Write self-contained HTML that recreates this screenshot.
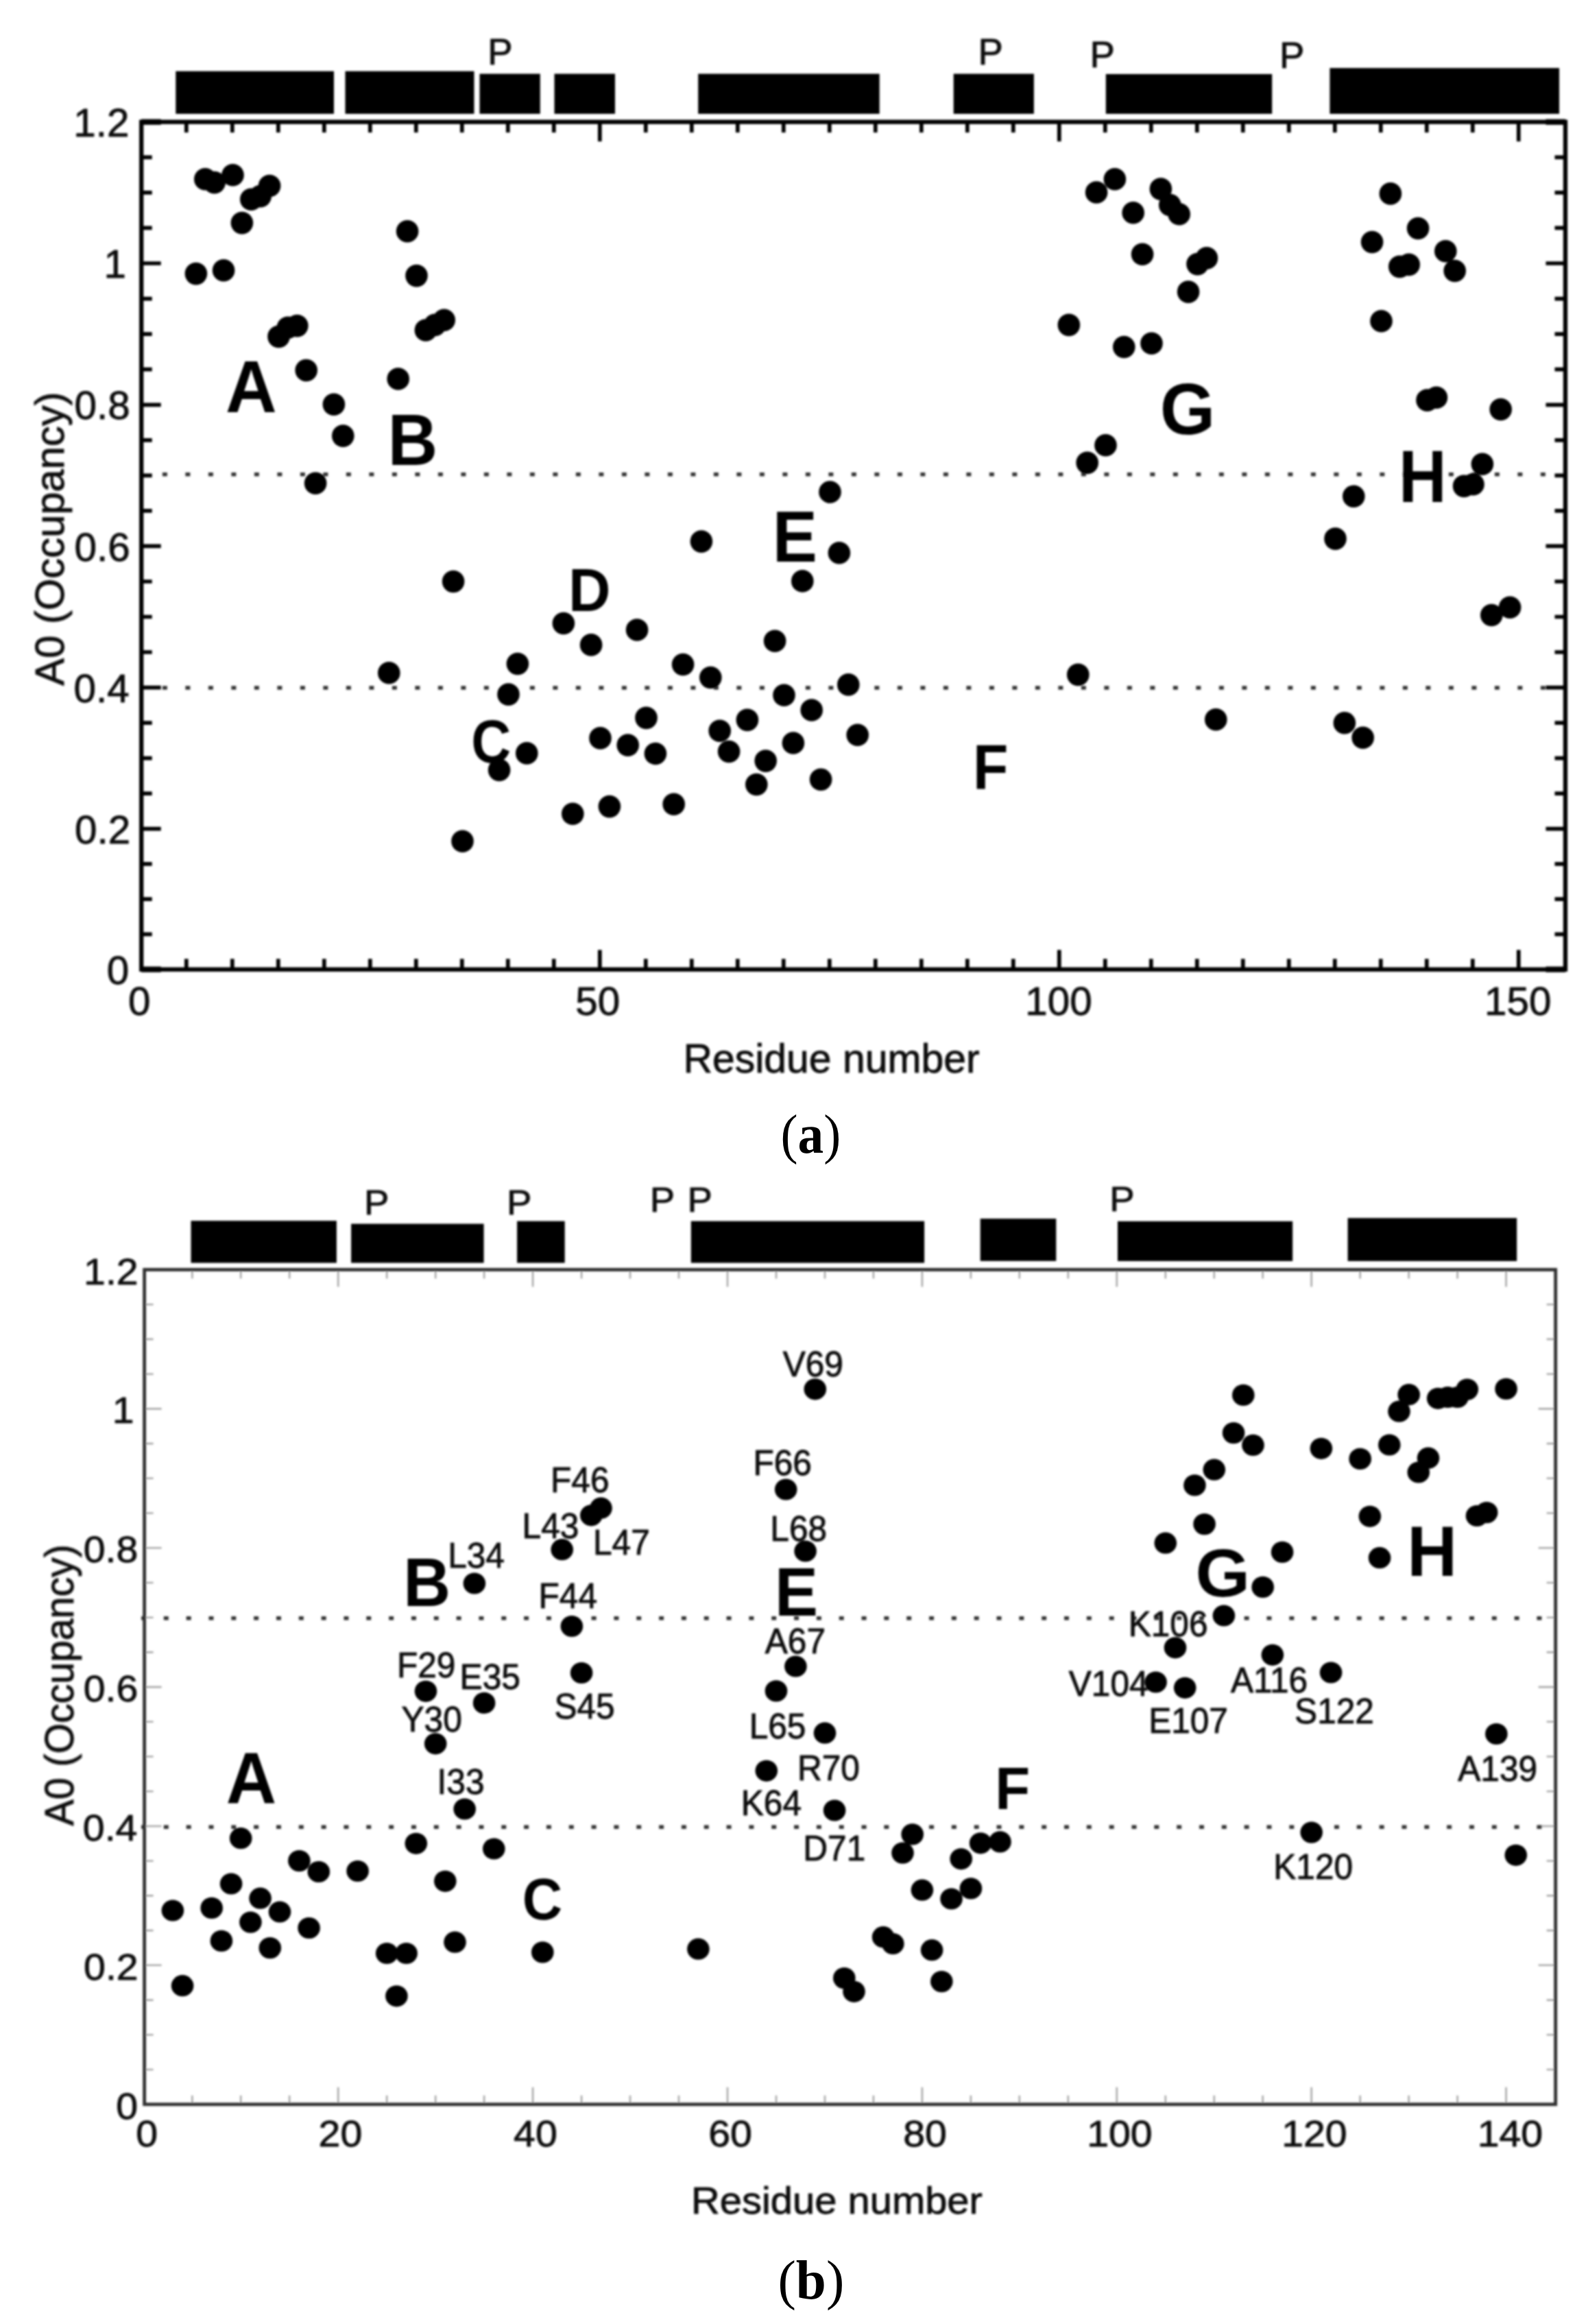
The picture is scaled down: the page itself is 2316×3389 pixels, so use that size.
<!DOCTYPE html>
<html><head><meta charset="utf-8"><title>Figure</title>
<style>html,body{margin:0;padding:0;background:#fff}svg{display:block}</style></head>
<body>
<svg width="2316" height="3389" viewBox="0 0 2316 3389">
<defs><filter id="soft" x="0" y="0" width="100%" height="100%" filterUnits="userSpaceOnUse" primitiveUnits="userSpaceOnUse"><feGaussianBlur stdDeviation="1.5"/></filter></defs>
<rect width="2316" height="3389" fill="#fff"/>
<g filter="url(#soft)">
<rect x="256.3" y="103.8" width="230.7" height="62.2" fill="#000"/>
<rect x="503.5" y="103.8" width="188.0" height="62.2" fill="#000"/>
<rect x="699.5" y="107.6" width="88.3" height="58.4" fill="#000"/>
<rect x="808.5" y="107.6" width="88.5" height="58.4" fill="#000"/>
<rect x="1018.2" y="107.6" width="264.5" height="58.4" fill="#000"/>
<rect x="1390.7" y="107.6" width="117.2" height="58.4" fill="#000"/>
<rect x="1612.8" y="108" width="242.4" height="58.0" fill="#000"/>
<rect x="1939.4" y="99.2" width="334.7" height="66.8" fill="#000"/>
<text transform="translate(711.14,93.55) scale(0.5450,0.5280)" font-size="100" font-family="Liberation Sans, sans-serif" fill="#111" stroke="#111" stroke-width="1.68" stroke-linejoin="round">P</text>
<text transform="translate(1426.54,93.85) scale(0.5450,0.5280)" font-size="100" font-family="Liberation Sans, sans-serif" fill="#111" stroke="#111" stroke-width="1.68" stroke-linejoin="round">P</text>
<text transform="translate(1589.49,97.80) scale(0.5450,0.5280)" font-size="100" font-family="Liberation Sans, sans-serif" fill="#111" stroke="#111" stroke-width="1.68" stroke-linejoin="round">P</text>
<text transform="translate(1865.94,98.60) scale(0.5450,0.5280)" font-size="100" font-family="Liberation Sans, sans-serif" fill="#111" stroke="#111" stroke-width="1.68" stroke-linejoin="round">P</text>
<path d="M271.8 1413.7v-15.5M271.8 177.8v15.5M338.8 1413.7v-15.5M338.8 177.8v15.5M405.8 1413.7v-15.5M405.8 177.8v15.5M472.8 1413.7v-15.5M472.8 177.8v15.5M539.8 1413.7v-15.5M539.8 177.8v15.5M606.8 1413.7v-15.5M606.8 177.8v15.5M673.8 1413.7v-15.5M673.8 177.8v15.5M740.8 1413.7v-15.5M740.8 177.8v15.5M807.8 1413.7v-15.5M807.8 177.8v15.5M874.8 1413.7v-28.5M874.8 177.8v28.5M941.8 1413.7v-15.5M941.8 177.8v15.5M1008.8 1413.7v-15.5M1008.8 177.8v15.5M1075.8 1413.7v-15.5M1075.8 177.8v15.5M1142.8 1413.7v-15.5M1142.8 177.8v15.5M1209.8 1413.7v-15.5M1209.8 177.8v15.5M1276.8 1413.7v-15.5M1276.8 177.8v15.5M1343.8 1413.7v-15.5M1343.8 177.8v15.5M1410.8 1413.7v-15.5M1410.8 177.8v15.5M1477.8 1413.7v-15.5M1477.8 177.8v15.5M1544.8 1413.7v-28.5M1544.8 177.8v28.5M1611.8 1413.7v-15.5M1611.8 177.8v15.5M1678.8 1413.7v-15.5M1678.8 177.8v15.5M1745.8 1413.7v-15.5M1745.8 177.8v15.5M1812.8 1413.7v-15.5M1812.8 177.8v15.5M1879.8 1413.7v-15.5M1879.8 177.8v15.5M1946.8 1413.7v-15.5M1946.8 177.8v15.5M2013.8 1413.7v-15.5M2013.8 177.8v15.5M2080.8 1413.7v-15.5M2080.8 177.8v15.5M2147.8 1413.7v-15.5M2147.8 177.8v15.5M2214.8 1413.7v-28.5M2214.8 177.8v28.5M206.2 229.4h15.5M2283.0 229.4h-15.5M206.2 280.9h15.5M2283.0 280.9h-15.5M206.2 332.4h15.5M2283.0 332.4h-15.5M206.2 384.0h28.5M2283.0 384.0h-28.5M206.2 435.6h15.5M2283.0 435.6h-15.5M206.2 487.1h15.5M2283.0 487.1h-15.5M206.2 538.7h15.5M2283.0 538.7h-15.5M206.2 590.3h28.5M2283.0 590.3h-28.5M206.2 641.8h15.5M2283.0 641.8h-15.5M206.2 693.3h15.5M2283.0 693.3h-15.5M206.2 744.9h15.5M2283.0 744.9h-15.5M206.2 796.4h28.5M2283.0 796.4h-28.5M206.2 848.0h15.5M2283.0 848.0h-15.5M206.2 899.5h15.5M2283.0 899.5h-15.5M206.2 951.0h15.5M2283.0 951.0h-15.5M206.2 1002.6h28.5M2283.0 1002.6h-28.5M206.2 1054.1h15.5M2283.0 1054.1h-15.5M206.2 1105.6h15.5M2283.0 1105.6h-15.5M206.2 1157.1h15.5M2283.0 1157.1h-15.5M206.2 1208.6h28.5M2283.0 1208.6h-28.5M206.2 1259.9h15.5M2283.0 1259.9h-15.5M206.2 1311.2h15.5M2283.0 1311.2h-15.5M206.2 1362.4h15.5M2283.0 1362.4h-15.5" stroke="#000" stroke-width="5.7" fill="none"/>
<rect x="206.2" y="177.8" width="2076.8" height="1235.9" fill="none" stroke="#000" stroke-width="6.3"/>
<path d="M206.2 177.8h28.5M206.2 1413.7h28.5M2283.0 177.8h-28.5M2283.0 1413.7h-28.5" stroke="#000" stroke-width="8.2" fill="none"/>
<path d="M236.9 691.7H2262" stroke="#333" stroke-width="5.6" stroke-dasharray="7 26.5" fill="none"/>
<path d="M236.9 1003.0H2262" stroke="#333" stroke-width="5.6" stroke-dasharray="7 26.5" fill="none"/>
<g fill="#000"><circle cx="285.9" cy="399.1" r="16.3"/><circle cx="299.3" cy="261.2" r="16.3"/><circle cx="312.7" cy="266.1" r="16.3"/><circle cx="326.1" cy="394.2" r="16.3"/><circle cx="339.5" cy="255.2" r="16.3"/><circle cx="352.9" cy="325.1" r="16.3"/><circle cx="366.3" cy="290.7" r="16.3"/><circle cx="379.7" cy="286.1" r="16.3"/><circle cx="393.1" cy="271" r="16.3"/><circle cx="406.5" cy="490.9" r="16.3"/><circle cx="419.9" cy="477.7" r="16.3"/><circle cx="433.3" cy="475.1" r="16.3"/><circle cx="446.7" cy="540" r="16.3"/><circle cx="460.1" cy="704.7" r="16.3"/><circle cx="486.9" cy="589.7" r="16.3"/><circle cx="500.3" cy="635.6" r="16.3"/><circle cx="567.3" cy="981.2" r="16.3"/><circle cx="580.7" cy="552.5" r="16.3"/><circle cx="594.1" cy="337.2" r="16.3"/><circle cx="607.5" cy="402.1" r="16.3"/><circle cx="620.9" cy="481.5" r="16.3"/><circle cx="634.3" cy="473.9" r="16.3"/><circle cx="647.7" cy="466.7" r="16.3"/><circle cx="661.1" cy="848" r="16.3"/><circle cx="674.5" cy="1226.8" r="16.3"/><circle cx="728.1" cy="1122.9" r="16.3"/><circle cx="741.5" cy="1012.6" r="16.3"/><circle cx="754.9" cy="968" r="16.3"/><circle cx="768.3" cy="1098.4" r="16.3"/><circle cx="821.9" cy="909" r="16.3"/><circle cx="835.3" cy="1186.7" r="16.3"/><circle cx="862.1" cy="940.4" r="16.3"/><circle cx="875.5" cy="1076.4" r="16.3"/><circle cx="888.9" cy="1176.1" r="16.3"/><circle cx="915.7" cy="1086.6" r="16.3"/><circle cx="929.1" cy="918.5" r="16.3"/><circle cx="942.5" cy="1046.9" r="16.3"/><circle cx="955.9" cy="1099" r="16.3"/><circle cx="982.7" cy="1172.7" r="16.3"/><circle cx="996.1" cy="969" r="16.3"/><circle cx="1022.9" cy="789.6" r="16.3"/><circle cx="1036.3" cy="988" r="16.3"/><circle cx="1049.7" cy="1065.8" r="16.3"/><circle cx="1063.1" cy="1096" r="16.3"/><circle cx="1089.9" cy="1049.9" r="16.3"/><circle cx="1103.3" cy="1144" r="16.3"/><circle cx="1116.7" cy="1109.6" r="16.3"/><circle cx="1130.1" cy="934.7" r="16.3"/><circle cx="1143.5" cy="1013.8" r="16.3"/><circle cx="1156.9" cy="1083.5" r="16.3"/><circle cx="1170.3" cy="847.4" r="16.3"/><circle cx="1183.7" cy="1035.5" r="16.3"/><circle cx="1197.1" cy="1136.8" r="16.3"/><circle cx="1210.5" cy="717.5" r="16.3"/><circle cx="1223.9" cy="806.2" r="16.3"/><circle cx="1237.3" cy="998.4" r="16.3"/><circle cx="1250.7" cy="1071.8" r="16.3"/><circle cx="1558.9" cy="473.9" r="16.3"/><circle cx="1572.3" cy="983.9" r="16.3"/><circle cx="1585.7" cy="674.9" r="16.3"/><circle cx="1599.1" cy="280.5" r="16.3"/><circle cx="1612.5" cy="649.2" r="16.3"/><circle cx="1625.9" cy="261.2" r="16.3"/><circle cx="1639.3" cy="506" r="16.3"/><circle cx="1652.7" cy="310.3" r="16.3"/><circle cx="1666.1" cy="370.8" r="16.3"/><circle cx="1679.5" cy="500.8" r="16.3"/><circle cx="1692.9" cy="275.6" r="16.3"/><circle cx="1706.3" cy="299" r="16.3"/><circle cx="1719.7" cy="312.2" r="16.3"/><circle cx="1733.1" cy="425.6" r="16.3"/><circle cx="1746.5" cy="385.1" r="16.3"/><circle cx="1759.9" cy="376.4" r="16.3"/><circle cx="1773.3" cy="1049.2" r="16.3"/><circle cx="1947.5" cy="785.6" r="16.3"/><circle cx="1960.9" cy="1054.2" r="16.3"/><circle cx="1974.3" cy="723.8" r="16.3"/><circle cx="1987.7" cy="1075.7" r="16.3"/><circle cx="2001.1" cy="353" r="16.3"/><circle cx="2014.5" cy="468.3" r="16.3"/><circle cx="2027.9" cy="282.4" r="16.3"/><circle cx="2041.3" cy="388.9" r="16.3"/><circle cx="2054.7" cy="385.9" r="16.3"/><circle cx="2068.1" cy="333" r="16.3"/><circle cx="2081.5" cy="583.6" r="16.3"/><circle cx="2094.9" cy="579.7" r="16.3"/><circle cx="2108.3" cy="366.2" r="16.3"/><circle cx="2121.7" cy="395" r="16.3"/><circle cx="2135.1" cy="708.9" r="16.3"/><circle cx="2148.5" cy="706.2" r="16.3"/><circle cx="2161.9" cy="676.8" r="16.3"/><circle cx="2175.3" cy="897" r="16.3"/><circle cx="2188.7" cy="597" r="16.3"/><circle cx="2202.1" cy="885.7" r="16.3"/></g>
<text transform="translate(328.91,601.20) scale(1.0343,1.0676)" font-size="100" font-family="Liberation Sans, sans-serif" font-weight="bold" fill="#000">A</text>
<text transform="translate(565.39,677.50) scale(1.0082,1.0647)" font-size="100" font-family="Liberation Sans, sans-serif" font-weight="bold" fill="#000">B</text>
<text transform="translate(687.19,1111.72) scale(0.8031,0.8820)" font-size="100" font-family="Liberation Sans, sans-serif" font-weight="bold" fill="#000">C</text>
<text transform="translate(829.05,890.50) scale(0.8522,0.8945)" font-size="100" font-family="Liberation Sans, sans-serif" font-weight="bold" fill="#000">D</text>
<text transform="translate(1126.71,818.60) scale(0.9768,1.0575)" font-size="100" font-family="Liberation Sans, sans-serif" font-weight="bold" fill="#000">E</text>
<text transform="translate(1419.02,1150.40) scale(0.8414,0.9207)" font-size="100" font-family="Liberation Sans, sans-serif" font-weight="bold" fill="#000">F</text>
<text transform="translate(1691.66,632.54) scale(1.0356,1.0629)" font-size="100" font-family="Liberation Sans, sans-serif" font-weight="bold" fill="#000">G</text>
<text transform="translate(2040.09,731.80) scale(0.9651,1.0691)" font-size="100" font-family="Liberation Sans, sans-serif" font-weight="bold" fill="#000">H</text>
<text transform="translate(107.23,199.26) scale(0.5841,0.5723)" font-size="100" font-family="Liberation Sans, sans-serif" fill="#111" stroke="#111" stroke-width="1.56" stroke-linejoin="round">1.2</text>
<text transform="translate(151.56,405.17) scale(0.5841,0.5723)" font-size="100" font-family="Liberation Sans, sans-serif" fill="#111" stroke="#111" stroke-width="1.56" stroke-linejoin="round">1</text>
<text transform="translate(108.49,611.47) scale(0.5841,0.5723)" font-size="100" font-family="Liberation Sans, sans-serif" fill="#111" stroke="#111" stroke-width="1.56" stroke-linejoin="round">0.8</text>
<text transform="translate(108.49,817.57) scale(0.5841,0.5723)" font-size="100" font-family="Liberation Sans, sans-serif" fill="#111" stroke="#111" stroke-width="1.56" stroke-linejoin="round">0.6</text>
<text transform="translate(107.62,1023.77) scale(0.5841,0.5723)" font-size="100" font-family="Liberation Sans, sans-serif" fill="#111" stroke="#111" stroke-width="1.56" stroke-linejoin="round">0.4</text>
<text transform="translate(108.93,1229.77) scale(0.5841,0.5723)" font-size="100" font-family="Liberation Sans, sans-serif" fill="#111" stroke="#111" stroke-width="1.56" stroke-linejoin="round">0.2</text>
<text transform="translate(155.77,1434.87) scale(0.5841,0.5723)" font-size="100" font-family="Liberation Sans, sans-serif" fill="#111" stroke="#111" stroke-width="1.56" stroke-linejoin="round">0</text>
<text transform="translate(187.02,1479.87) scale(0.5841,0.5723)" font-size="100" font-family="Liberation Sans, sans-serif" fill="#111" stroke="#111" stroke-width="1.56" stroke-linejoin="round">0</text>
<text transform="translate(839.21,1479.87) scale(0.5841,0.5723)" font-size="100" font-family="Liberation Sans, sans-serif" fill="#111" stroke="#111" stroke-width="1.56" stroke-linejoin="round">50</text>
<text transform="translate(1495.21,1479.87) scale(0.5841,0.5723)" font-size="100" font-family="Liberation Sans, sans-serif" fill="#111" stroke="#111" stroke-width="1.56" stroke-linejoin="round">100</text>
<text transform="translate(2165.01,1479.87) scale(0.5841,0.5723)" font-size="100" font-family="Liberation Sans, sans-serif" fill="#111" stroke="#111" stroke-width="1.56" stroke-linejoin="round">150</text>
<text transform="translate(996.44,1564.41) scale(0.5891,0.5878)" font-size="100" font-family="Liberation Sans, sans-serif" fill="#111" stroke="#111" stroke-width="1.53" stroke-linejoin="round">Residue number</text>
<text transform="translate(93.00,999.85) rotate(-90) scale(1.0134,1.0000)" font-size="59" font-family="Liberation Sans, sans-serif" fill="#111" stroke="#111" stroke-width="0.89" stroke-linejoin="round">A0 (Occupancy)</text>
<rect x="278.5" y="1780.2" width="212.4" height="61.4" fill="#000"/>
<rect x="512.1" y="1784.6" width="193.5" height="57.0" fill="#000"/>
<rect x="754.1" y="1780.7" width="69.6" height="60.9" fill="#000"/>
<rect x="1007.8" y="1780.7" width="340.3" height="60.9" fill="#000"/>
<rect x="1429.7" y="1777.1" width="110.6" height="61.8" fill="#000"/>
<rect x="1630" y="1780.9" width="255.2" height="58.1" fill="#000"/>
<rect x="1965.6" y="1776.2" width="246.6" height="62.8" fill="#000"/>
<text transform="translate(530.99,1771.21) scale(0.5450,0.5080)" font-size="100" font-family="Liberation Sans, sans-serif" fill="#111" stroke="#111" stroke-width="1.71" stroke-linejoin="round">P</text>
<text transform="translate(739.04,1771.21) scale(0.5450,0.5080)" font-size="100" font-family="Liberation Sans, sans-serif" fill="#111" stroke="#111" stroke-width="1.71" stroke-linejoin="round">P</text>
<text transform="translate(947.64,1766.81) scale(0.5450,0.5080)" font-size="100" font-family="Liberation Sans, sans-serif" fill="#111" stroke="#111" stroke-width="1.71" stroke-linejoin="round">P</text>
<text transform="translate(1002.49,1766.81) scale(0.5450,0.5080)" font-size="100" font-family="Liberation Sans, sans-serif" fill="#111" stroke="#111" stroke-width="1.71" stroke-linejoin="round">P</text>
<text transform="translate(1618.34,1766.26) scale(0.5450,0.5080)" font-size="100" font-family="Liberation Sans, sans-serif" fill="#111" stroke="#111" stroke-width="1.71" stroke-linejoin="round">P</text>
<path d="M280.3 3068.7v-13M280.3 1851.5v13M351.2 3068.7v-13M351.2 1851.5v13M422.2 3068.7v-13M422.2 1851.5v13M493.2 3068.7v-25M493.2 1851.5v25M564.2 3068.7v-13M564.2 1851.5v13M635.2 3068.7v-13M635.2 1851.5v13M706.1 3068.7v-13M706.1 1851.5v13M777.1 3068.7v-25M777.1 1851.5v25M848.1 3068.7v-13M848.1 1851.5v13M919.0 3068.7v-13M919.0 1851.5v13M990.0 3068.7v-13M990.0 1851.5v13M1061.0 3068.7v-25M1061.0 1851.5v25M1132.0 3068.7v-13M1132.0 1851.5v13M1203.0 3068.7v-13M1203.0 1851.5v13M1273.9 3068.7v-13M1273.9 1851.5v13M1344.9 3068.7v-25M1344.9 1851.5v25M1415.9 3068.7v-13M1415.9 1851.5v13M1486.8 3068.7v-13M1486.8 1851.5v13M1557.8 3068.7v-13M1557.8 1851.5v13M1628.8 3068.7v-25M1628.8 1851.5v25M1699.8 3068.7v-13M1699.8 1851.5v13M1770.8 3068.7v-13M1770.8 1851.5v13M1841.7 3068.7v-13M1841.7 1851.5v13M1912.7 3068.7v-25M1912.7 1851.5v25M1983.7 3068.7v-13M1983.7 1851.5v13M2054.7 3068.7v-13M2054.7 1851.5v13M2125.6 3068.7v-13M2125.6 1851.5v13M2196.6 3068.7v-25M2196.6 1851.5v25M210.6 1902.2h13M2268.7 1902.2h-13M210.6 1952.9h13M2268.7 1952.9h-13M210.6 2003.7h13M2268.7 2003.7h-13M210.6 2054.4h25M2268.7 2054.4h-25M210.6 2105.1h13M2268.7 2105.1h-13M210.6 2155.8h13M2268.7 2155.8h-13M210.6 2206.5h13M2268.7 2206.5h-13M210.6 2257.2h25M2268.7 2257.2h-25M210.6 2308.0h13M2268.7 2308.0h-13M210.6 2358.7h13M2268.7 2358.7h-13M210.6 2409.4h13M2268.7 2409.4h-13M210.6 2460.1h25M2268.7 2460.1h-25M210.6 2510.8h13M2268.7 2510.8h-13M210.6 2561.5h13M2268.7 2561.5h-13M210.6 2612.3h13M2268.7 2612.3h-13M210.6 2663.0h25M2268.7 2663.0h-25M210.6 2713.7h13M2268.7 2713.7h-13M210.6 2764.4h13M2268.7 2764.4h-13M210.6 2815.1h13M2268.7 2815.1h-13M210.6 2865.8h25M2268.7 2865.8h-25M210.6 2916.6h13M2268.7 2916.6h-13M210.6 2967.3h13M2268.7 2967.3h-13M210.6 3018.0h13M2268.7 3018.0h-13" stroke="#a8a8a8" stroke-width="2.6" fill="none"/>
<path d="M206 2359.7H2250" stroke="#333" stroke-width="5.4" stroke-dasharray="7 25.83" fill="none"/>
<path d="M206 2664.3H2250" stroke="#333" stroke-width="5.4" stroke-dasharray="7 25.83" fill="none"/>
<rect x="210.6" y="1851.5" width="2058.1" height="1217.2" fill="none" stroke="#2e2e2e" stroke-width="4.8"/>
<g fill="#000"><ellipse cx="251.9" cy="2786" rx="16.3" ry="15.6"/><ellipse cx="266.1" cy="2895.7" rx="16.3" ry="15.6"/><ellipse cx="308.7" cy="2782.4" rx="16.3" ry="15.6"/><ellipse cx="322.9" cy="2830.4" rx="16.3" ry="15.6"/><ellipse cx="337.1" cy="2747" rx="16.3" ry="15.6"/><ellipse cx="351.2" cy="2680.7" rx="16.3" ry="15.6"/><ellipse cx="365.4" cy="2803.1" rx="16.3" ry="15.6"/><ellipse cx="379.6" cy="2768.2" rx="16.3" ry="15.6"/><ellipse cx="393.8" cy="2840.6" rx="16.3" ry="15.6"/><ellipse cx="408.0" cy="2788" rx="16.3" ry="15.6"/><ellipse cx="436.4" cy="2713.6" rx="16.3" ry="15.6"/><ellipse cx="450.6" cy="2811.5" rx="16.3" ry="15.6"/><ellipse cx="464.8" cy="2729.5" rx="16.3" ry="15.6"/><ellipse cx="521.6" cy="2728.5" rx="16.3" ry="15.6"/><ellipse cx="564.2" cy="2848.5" rx="16.3" ry="15.6"/><ellipse cx="578.4" cy="2910.8" rx="16.3" ry="15.6"/><ellipse cx="592.6" cy="2848.5" rx="16.3" ry="15.6"/><ellipse cx="606.8" cy="2688.3" rx="16.3" ry="15.6"/><ellipse cx="621.0" cy="2466.3" rx="16.3" ry="15.6"/><ellipse cx="635.2" cy="2542.8" rx="16.3" ry="15.6"/><ellipse cx="649.3" cy="2743.3" rx="16.3" ry="15.6"/><ellipse cx="663.5" cy="2832.2" rx="16.3" ry="15.6"/><ellipse cx="677.7" cy="2638" rx="16.3" ry="15.6"/><ellipse cx="691.9" cy="2309" rx="16.3" ry="15.6"/><ellipse cx="706.1" cy="2483.4" rx="16.3" ry="15.6"/><ellipse cx="720.3" cy="2696" rx="16.3" ry="15.6"/><ellipse cx="791.3" cy="2846.9" rx="16.3" ry="15.6"/><ellipse cx="819.7" cy="2259.7" rx="16.3" ry="15.6"/><ellipse cx="833.9" cy="2371.5" rx="16.3" ry="15.6"/><ellipse cx="848.1" cy="2439.5" rx="16.3" ry="15.6"/><ellipse cx="862.3" cy="2209.8" rx="16.3" ry="15.6"/><ellipse cx="876.5" cy="2199.2" rx="16.3" ry="15.6"/><ellipse cx="1018.4" cy="2842.2" rx="16.3" ry="15.6"/><ellipse cx="1117.8" cy="2582.3" rx="16.3" ry="15.6"/><ellipse cx="1132.0" cy="2465.9" rx="16.3" ry="15.6"/><ellipse cx="1146.2" cy="2172" rx="16.3" ry="15.6"/><ellipse cx="1160.4" cy="2430" rx="16.3" ry="15.6"/><ellipse cx="1174.6" cy="2262" rx="16.3" ry="15.6"/><ellipse cx="1188.8" cy="2025.8" rx="16.3" ry="15.6"/><ellipse cx="1203.0" cy="2527.2" rx="16.3" ry="15.6"/><ellipse cx="1217.1" cy="2640" rx="16.3" ry="15.6"/><ellipse cx="1231.3" cy="2884.6" rx="16.3" ry="15.6"/><ellipse cx="1245.5" cy="2904.3" rx="16.3" ry="15.6"/><ellipse cx="1288.1" cy="2824.7" rx="16.3" ry="15.6"/><ellipse cx="1302.3" cy="2834.5" rx="16.3" ry="15.6"/><ellipse cx="1316.5" cy="2702.1" rx="16.3" ry="15.6"/><ellipse cx="1330.7" cy="2674.9" rx="16.3" ry="15.6"/><ellipse cx="1344.9" cy="2756.2" rx="16.3" ry="15.6"/><ellipse cx="1359.1" cy="2843.7" rx="16.3" ry="15.6"/><ellipse cx="1373.3" cy="2889.6" rx="16.3" ry="15.6"/><ellipse cx="1387.5" cy="2769" rx="16.3" ry="15.6"/><ellipse cx="1401.7" cy="2710.8" rx="16.3" ry="15.6"/><ellipse cx="1415.9" cy="2753.9" rx="16.3" ry="15.6"/><ellipse cx="1430.1" cy="2687.8" rx="16.3" ry="15.6"/><ellipse cx="1458.5" cy="2685.9" rx="16.3" ry="15.6"/><ellipse cx="1685.6" cy="2453" rx="16.3" ry="15.6"/><ellipse cx="1699.8" cy="2250.2" rx="16.3" ry="15.6"/><ellipse cx="1714.0" cy="2402.8" rx="16.3" ry="15.6"/><ellipse cx="1728.2" cy="2461.3" rx="16.3" ry="15.6"/><ellipse cx="1742.4" cy="2165.9" rx="16.3" ry="15.6"/><ellipse cx="1756.6" cy="2222.6" rx="16.3" ry="15.6"/><ellipse cx="1770.8" cy="2143.2" rx="16.3" ry="15.6"/><ellipse cx="1784.9" cy="2356" rx="16.3" ry="15.6"/><ellipse cx="1799.1" cy="2089.6" rx="16.3" ry="15.6"/><ellipse cx="1813.3" cy="2034.4" rx="16.3" ry="15.6"/><ellipse cx="1827.5" cy="2107.4" rx="16.3" ry="15.6"/><ellipse cx="1841.7" cy="2314.4" rx="16.3" ry="15.6"/><ellipse cx="1855.9" cy="2413.3" rx="16.3" ry="15.6"/><ellipse cx="1870.1" cy="2263.4" rx="16.3" ry="15.6"/><ellipse cx="1912.7" cy="2672.1" rx="16.3" ry="15.6"/><ellipse cx="1926.9" cy="2112.3" rx="16.3" ry="15.6"/><ellipse cx="1941.1" cy="2439" rx="16.3" ry="15.6"/><ellipse cx="1983.7" cy="2127.4" rx="16.3" ry="15.6"/><ellipse cx="1997.9" cy="2211.3" rx="16.3" ry="15.6"/><ellipse cx="2012.1" cy="2271.7" rx="16.3" ry="15.6"/><ellipse cx="2026.3" cy="2107" rx="16.3" ry="15.6"/><ellipse cx="2040.5" cy="2058.2" rx="16.3" ry="15.6"/><ellipse cx="2054.7" cy="2033.7" rx="16.3" ry="15.6"/><ellipse cx="2068.8" cy="2147" rx="16.3" ry="15.6"/><ellipse cx="2083.0" cy="2126.2" rx="16.3" ry="15.6"/><ellipse cx="2097.2" cy="2039.3" rx="16.3" ry="15.6"/><ellipse cx="2111.4" cy="2037.5" rx="16.3" ry="15.6"/><ellipse cx="2125.6" cy="2037.5" rx="16.3" ry="15.6"/><ellipse cx="2139.8" cy="2026.1" rx="16.3" ry="15.6"/><ellipse cx="2154.0" cy="2210.5" rx="16.3" ry="15.6"/><ellipse cx="2168.2" cy="2205.6" rx="16.3" ry="15.6"/><ellipse cx="2182.4" cy="2528.5" rx="16.3" ry="15.6"/><ellipse cx="2196.6" cy="2025.4" rx="16.3" ry="15.6"/><ellipse cx="2210.8" cy="2705.3" rx="16.3" ry="15.6"/></g>
<text transform="translate(329.66,2629.60) scale(1.0164,1.0575)" font-size="100" font-family="Liberation Sans, sans-serif" font-weight="bold" fill="#000">A</text>
<text transform="translate(588.36,2342.40) scale(0.9541,0.9978)" font-size="100" font-family="Liberation Sans, sans-serif" font-weight="bold" fill="#000">B</text>
<text transform="translate(761.77,2798.95) scale(0.8076,0.8481)" font-size="100" font-family="Liberation Sans, sans-serif" font-weight="bold" fill="#000">C</text>
<text transform="translate(1130.02,2356.20) scale(0.9446,1.0022)" font-size="100" font-family="Liberation Sans, sans-serif" font-weight="bold" fill="#000">E</text>
<text transform="translate(1451.27,2637.80) scale(0.8335,0.8771)" font-size="100" font-family="Liberation Sans, sans-serif" font-weight="bold" fill="#000">F</text>
<text transform="translate(1743.41,2328.41) scale(1.0237,0.9880)" font-size="100" font-family="Liberation Sans, sans-serif" font-weight="bold" fill="#000">G</text>
<text transform="translate(2052.29,2298.40) scale(1.0094,1.0458)" font-size="100" font-family="Liberation Sans, sans-serif" font-weight="bold" fill="#000">H</text>
<text transform="translate(653.18,2285.80) scale(0.4960,0.5150)" font-size="100" font-family="Liberation Sans, sans-serif" fill="#111" stroke="#111" stroke-width="1.78" stroke-linejoin="round">L34</text>
<text transform="translate(578.95,2445.85) scale(0.4960,0.5150)" font-size="100" font-family="Liberation Sans, sans-serif" fill="#111" stroke="#111" stroke-width="1.78" stroke-linejoin="round">F29</text>
<text transform="translate(670.61,2463.40) scale(0.4960,0.5150)" font-size="100" font-family="Liberation Sans, sans-serif" fill="#111" stroke="#111" stroke-width="1.78" stroke-linejoin="round">E35</text>
<text transform="translate(585.49,2525.40) scale(0.4960,0.5150)" font-size="100" font-family="Liberation Sans, sans-serif" fill="#111" stroke="#111" stroke-width="1.78" stroke-linejoin="round">Y30</text>
<text transform="translate(637.54,2615.70) scale(0.4960,0.5150)" font-size="100" font-family="Liberation Sans, sans-serif" fill="#111" stroke="#111" stroke-width="1.78" stroke-linejoin="round">I33</text>
<text transform="translate(803.04,2175.95) scale(0.4960,0.5150)" font-size="100" font-family="Liberation Sans, sans-serif" fill="#111" stroke="#111" stroke-width="1.78" stroke-linejoin="round">F46</text>
<text transform="translate(761.55,2242.60) scale(0.4960,0.5150)" font-size="100" font-family="Liberation Sans, sans-serif" fill="#111" stroke="#111" stroke-width="1.78" stroke-linejoin="round">L43</text>
<text transform="translate(865.04,2267.20) scale(0.4960,0.5150)" font-size="100" font-family="Liberation Sans, sans-serif" fill="#111" stroke="#111" stroke-width="1.78" stroke-linejoin="round">L47</text>
<text transform="translate(785.52,2345.15) scale(0.4960,0.5150)" font-size="100" font-family="Liberation Sans, sans-serif" fill="#111" stroke="#111" stroke-width="1.78" stroke-linejoin="round">F44</text>
<text transform="translate(808.44,2506.15) scale(0.4960,0.5150)" font-size="100" font-family="Liberation Sans, sans-serif" fill="#111" stroke="#111" stroke-width="1.78" stroke-linejoin="round">S45</text>
<text transform="translate(1141.66,2006.50) scale(0.4960,0.5150)" font-size="100" font-family="Liberation Sans, sans-serif" fill="#111" stroke="#111" stroke-width="1.78" stroke-linejoin="round">V69</text>
<text transform="translate(1098.39,2151.40) scale(0.4960,0.5150)" font-size="100" font-family="Liberation Sans, sans-serif" fill="#111" stroke="#111" stroke-width="1.78" stroke-linejoin="round">F66</text>
<text transform="translate(1123.30,2247.35) scale(0.4960,0.5150)" font-size="100" font-family="Liberation Sans, sans-serif" fill="#111" stroke="#111" stroke-width="1.78" stroke-linejoin="round">L68</text>
<text transform="translate(1115.80,2411.10) scale(0.4960,0.5150)" font-size="100" font-family="Liberation Sans, sans-serif" fill="#111" stroke="#111" stroke-width="1.78" stroke-linejoin="round">A67</text>
<text transform="translate(1092.69,2535.00) scale(0.4960,0.5150)" font-size="100" font-family="Liberation Sans, sans-serif" fill="#111" stroke="#111" stroke-width="1.78" stroke-linejoin="round">L65</text>
<text transform="translate(1162.94,2595.50) scale(0.4960,0.5150)" font-size="100" font-family="Liberation Sans, sans-serif" fill="#111" stroke="#111" stroke-width="1.78" stroke-linejoin="round">R70</text>
<text transform="translate(1080.75,2647.20) scale(0.4960,0.5150)" font-size="100" font-family="Liberation Sans, sans-serif" fill="#111" stroke="#111" stroke-width="1.78" stroke-linejoin="round">K64</text>
<text transform="translate(1171.29,2713.35) scale(0.4960,0.5150)" font-size="100" font-family="Liberation Sans, sans-serif" fill="#111" stroke="#111" stroke-width="1.78" stroke-linejoin="round">D71</text>
<text transform="translate(1645.70,2385.70) scale(0.4960,0.5150)" font-size="100" font-family="Liberation Sans, sans-serif" fill="#111" stroke="#111" stroke-width="1.78" stroke-linejoin="round">K106</text>
<text transform="translate(1558.80,2472.60) scale(0.4960,0.5150)" font-size="100" font-family="Liberation Sans, sans-serif" fill="#111" stroke="#111" stroke-width="1.78" stroke-linejoin="round">V104</text>
<text transform="translate(1675.14,2526.60) scale(0.4960,0.5150)" font-size="100" font-family="Liberation Sans, sans-serif" fill="#111" stroke="#111" stroke-width="1.78" stroke-linejoin="round">E107</text>
<text transform="translate(1794.99,2467.70) scale(0.4960,0.5150)" font-size="100" font-family="Liberation Sans, sans-serif" fill="#111" stroke="#111" stroke-width="1.78" stroke-linejoin="round">A116</text>
<text transform="translate(1888.07,2513.25) scale(0.4960,0.5150)" font-size="100" font-family="Liberation Sans, sans-serif" fill="#111" stroke="#111" stroke-width="1.78" stroke-linejoin="round">S122</text>
<text transform="translate(2126.30,2596.80) scale(0.4960,0.5150)" font-size="100" font-family="Liberation Sans, sans-serif" fill="#111" stroke="#111" stroke-width="1.78" stroke-linejoin="round">A139</text>
<text transform="translate(1857.23,2740.35) scale(0.4960,0.5150)" font-size="100" font-family="Liberation Sans, sans-serif" fill="#111" stroke="#111" stroke-width="1.78" stroke-linejoin="round">K120</text>
<text transform="translate(122.11,1872.63) scale(0.5723,0.5428)" font-size="100" font-family="Liberation Sans, sans-serif" fill="#111" stroke="#111" stroke-width="1.61" stroke-linejoin="round">1.2</text>
<text transform="translate(163.76,2075.23) scale(0.5723,0.5428)" font-size="100" font-family="Liberation Sans, sans-serif" fill="#111" stroke="#111" stroke-width="1.61" stroke-linejoin="round">1</text>
<text transform="translate(121.68,2278.10) scale(0.5723,0.5428)" font-size="100" font-family="Liberation Sans, sans-serif" fill="#111" stroke="#111" stroke-width="1.61" stroke-linejoin="round">0.8</text>
<text transform="translate(121.68,2480.97) scale(0.5723,0.5428)" font-size="100" font-family="Liberation Sans, sans-serif" fill="#111" stroke="#111" stroke-width="1.61" stroke-linejoin="round">0.6</text>
<text transform="translate(120.82,2683.84) scale(0.5723,0.5428)" font-size="100" font-family="Liberation Sans, sans-serif" fill="#111" stroke="#111" stroke-width="1.61" stroke-linejoin="round">0.4</text>
<text transform="translate(122.11,2886.71) scale(0.5723,0.5428)" font-size="100" font-family="Liberation Sans, sans-serif" fill="#111" stroke="#111" stroke-width="1.61" stroke-linejoin="round">0.2</text>
<text transform="translate(169.18,3089.58) scale(0.5723,0.5428)" font-size="100" font-family="Liberation Sans, sans-serif" fill="#111" stroke="#111" stroke-width="1.61" stroke-linejoin="round">0</text>
<text transform="translate(198.25,3129.66) scale(0.5723,0.5428)" font-size="100" font-family="Liberation Sans, sans-serif" fill="#111" stroke="#111" stroke-width="1.61" stroke-linejoin="round">0</text>
<text transform="translate(464.58,3129.66) scale(0.5723,0.5428)" font-size="100" font-family="Liberation Sans, sans-serif" fill="#111" stroke="#111" stroke-width="1.61" stroke-linejoin="round">20</text>
<text transform="translate(749.07,3129.66) scale(0.5723,0.5428)" font-size="100" font-family="Liberation Sans, sans-serif" fill="#111" stroke="#111" stroke-width="1.61" stroke-linejoin="round">40</text>
<text transform="translate(1033.18,3129.66) scale(0.5723,0.5428)" font-size="100" font-family="Liberation Sans, sans-serif" fill="#111" stroke="#111" stroke-width="1.61" stroke-linejoin="round">60</text>
<text transform="translate(1317.29,3129.66) scale(0.5723,0.5428)" font-size="100" font-family="Liberation Sans, sans-serif" fill="#111" stroke="#111" stroke-width="1.61" stroke-linejoin="round">80</text>
<text transform="translate(1585.21,3129.66) scale(0.5723,0.5428)" font-size="100" font-family="Liberation Sans, sans-serif" fill="#111" stroke="#111" stroke-width="1.61" stroke-linejoin="round">100</text>
<text transform="translate(1869.21,3129.66) scale(0.5723,0.5428)" font-size="100" font-family="Liberation Sans, sans-serif" fill="#111" stroke="#111" stroke-width="1.61" stroke-linejoin="round">120</text>
<text transform="translate(2154.71,3129.66) scale(0.5723,0.5428)" font-size="100" font-family="Liberation Sans, sans-serif" fill="#111" stroke="#111" stroke-width="1.61" stroke-linejoin="round">140</text>
<text transform="translate(1008.02,3228.24) scale(0.5791,0.5619)" font-size="100" font-family="Liberation Sans, sans-serif" fill="#111" stroke="#111" stroke-width="1.58" stroke-linejoin="round">Residue number</text>
<text transform="translate(106.90,2662.44) rotate(-90) scale(0.9700,1.0000)" font-size="59" font-family="Liberation Sans, sans-serif" fill="#111" stroke="#111" stroke-width="0.91" stroke-linejoin="round">A0 (Occupancy)</text>
</g>
<text transform="translate(1138.51,1680.70) scale(0.9404,1)" font-size="80" font-family="Liberation Serif, serif" fill="#000">(<tspan font-weight="bold">a</tspan>)</text>
<text transform="translate(1134.43,3351.80) scale(0.9908,1)" font-size="80" font-family="Liberation Serif, serif" fill="#000">(<tspan font-weight="bold">b</tspan>)</text>
</svg>
</body></html>
